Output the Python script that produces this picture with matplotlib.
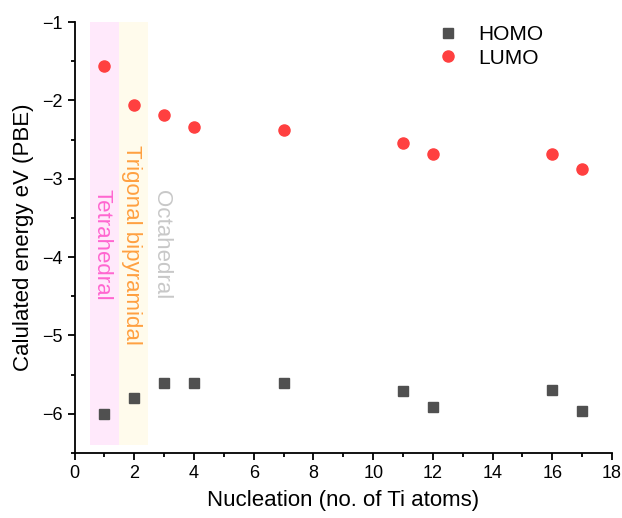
import matplotlib
matplotlib.use('Agg')
import matplotlib.pyplot as plt
from matplotlib.ticker import MultipleLocator

plt.rcParams['font.family'] = ['Liberation Sans', 'DejaVu Sans']

# Ti atoms per cluster and the computed frontier orbital energies (eV)
n_ti = [1, 2, 3, 4, 7, 11, 12, 16, 17]
homo = [-6.00, -5.80, -5.61, -5.61, -5.61, -5.71, -5.91, -5.70, -5.96]
lumo = [-1.56, -2.06, -2.19, -2.34, -2.38, -2.55, -2.68, -2.68, -2.87]

# coordination regions
regions = ['Tetrahedral', 'Trigonal bipyramidal', 'Octahedral']
region_x = [1, 2, 3]

fig = plt.figure(figsize=(6.22, 5.18), dpi=100)
ax = fig.add_axes([0.120, 0.1255, 0.864, 0.832])

# shaded backgrounds for the first two geometries
ax.fill_between([0.5, 1.5], -6.4, -1, color='#ffe9fb', lw=0, zorder=0)
ax.fill_between([1.5, 2.45], -6.4, -1, color='#fffbec', lw=0, zorder=0)

text_cols = ['#ff66d0', '#ffa040', '#c8c8c8']
for lab, xx, c in zip(regions, region_x, text_cols):
    ax.text(xx - 0.08, -3.84, lab, rotation=-90, color=c, fontsize=16,
            ha='center', va='center')

ax.plot(n_ti, homo, 's', color='#505050', ms=7.5, mec='#505050', label='HOMO', zorder=3)
ax.plot(n_ti, lumo, 'o', color='#ff4040', ms=8, mec='#ff4040', label='LUMO', zorder=3)

ax.set_xlim(0, 18)
ax.set_ylim(-6.5, -1)
ax.xaxis.set_major_locator(MultipleLocator(2))
ax.xaxis.set_minor_locator(MultipleLocator(1))
ax.yaxis.set_major_locator(MultipleLocator(1))
ax.yaxis.set_minor_locator(MultipleLocator(0.5))
ax.spines['top'].set_visible(False)
ax.spines['right'].set_visible(False)
for s in ['left', 'bottom']:
    ax.spines[s].set_linewidth(1.3)
ax.tick_params(which='major', length=5, width=1.3, labelsize=13, direction='out')
ax.tick_params(which='minor', length=3, width=1.3, direction='out')

ax.set_xlabel('Nucleation (no. of Ti atoms)', fontsize=16, labelpad=6)
ax.set_ylabel('Calulated energy eV (PBE)', fontsize=16, labelpad=6)

ax.legend(loc='upper left', bbox_to_anchor=(0.650, 1.026), frameon=False,
          fontsize=15, handlelength=0.95, handletextpad=0.95,
          labelspacing=0.2, borderpad=0.2)

fig.savefig('out.png', dpi=100)
